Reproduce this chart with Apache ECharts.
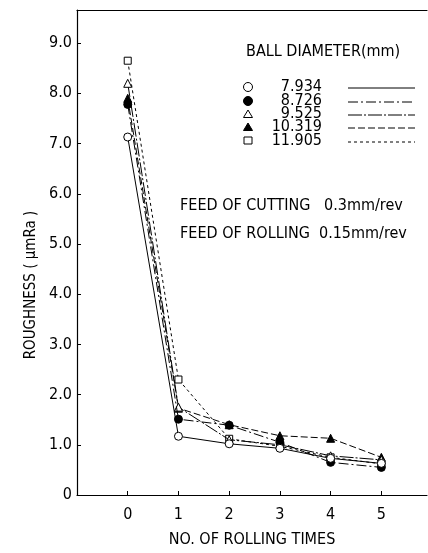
<!DOCTYPE html>
<html>
<head>
<meta charset="utf-8">
<script src="https://cdn.jsdelivr.net/npm/echarts@6/dist/echarts.min.js"></script>
<style>
  html, body { margin: 0; padding: 0; background: #fff; }
  #chart { width: 428px; height: 553px; }
</style>
</head>
<body>
<div id="chart"></div>
<script>
// rolling times on x
var rollingTimes = [0, 1, 2, 3, 4, 5];

// ball diameters (mm) and roughness values
var diameters = ['7.934', '8.726', '9.525', '10.319', '11.905'];
var rough7934 = [7.13, 1.17, 1.02, 0.93, 0.73, 0.63];
var rough8726 = [7.78, 1.51, 1.39, 1.05, 0.65, 0.55];
var rough9525 = [8.2, 1.75, 1.1, 1.0, 0.78, 0.7];
var rough10319 = [7.9, 1.73, 1.4, 1.18, 1.13, 0.75];
var rough11905 = [8.65, 2.3, 1.12, 0.97, 0.75, 0.62];

var yTicks = [0, 1, 2, 3, 4, 5, 6, 7, 8, 9];

var font = '"DejaVu Sans Condensed", "DejaVu Sans", sans-serif';

var seriesValues = [rough7934, rough8726, rough9525, rough10319, rough11905];
var symbols = ['circle', 'circle', 'triangle', 'triangle', 'rect'];
var filled = [false, true, false, true, false];
var dashes = ['solid', [10, 3, 2, 3], [14, 2, 2, 2], [7, 3], [3, 3]];

var series = diameters.map(function (d, i) {
  return {
    name: d,
    type: 'line',
    xAxisIndex: 0,
    yAxisIndex: 0,
    data: rollingTimes.map(function (t, j) { return [t, seriesValues[i][j]]; }),
    symbol: symbols[i],
    symbolSize: symbols[i] === 'rect' ? 7 : 8,
    showAllSymbol: true,
    z: 10 - i,
    itemStyle: {
      color: filled[i] ? '#000' : '#fff',
      borderColor: '#000',
      borderWidth: 1
    },
    lineStyle: { color: '#000', width: 1, type: dashes[i] },
    emphasis: { disabled: true },
    animation: false
  };
});

// legend drawn by hand: symbol, value, line sample
var graphics = [{
  type: 'text', left: 246, top: 44,
  style: { text: 'BALL DIAMETER(mm)', font: '16px ' + font, fill: '#000' }
}];
var rowY = [87, 101, 114, 127, 141];
diameters.forEach(function (d, i) {
  var y = rowY[i];
  var fill = filled[i] ? '#000' : '#fff';
  if (symbols[i] === 'circle') {
    graphics.push({ type: 'circle', shape: { cx: 248, cy: y, r: 4.5 }, style: { fill: fill, stroke: '#000', lineWidth: 1 } });
  } else if (symbols[i] === 'triangle') {
    graphics.push({ type: 'polygon', shape: { points: [[248, y - 4], [243.5, y + 3.5], [252.5, y + 3.5]] }, style: { fill: fill, stroke: '#000', lineWidth: 1 } });
  } else {
    graphics.push({ type: 'rect', shape: { x: 244, y: y - 4, width: 8, height: 7 }, style: { fill: fill, stroke: '#000', lineWidth: 1 } });
  }
  graphics.push({
    type: 'text', x: 322, y: y, z: 20,
    style: { text: d, font: '16px ' + font, fill: '#000', align: 'right', verticalAlign: 'middle' }
  });
  graphics.push({
    type: 'line', shape: { x1: 348, y1: y + 1, x2: 415, y2: y + 1 },
    style: { stroke: '#000', lineWidth: 1, lineDash: dashes[i] === 'solid' ? null : dashes[i] }
  });
});
graphics.push({
  type: 'text', left: 180, top: 198,
  style: { text: 'FEED OF CUTTING   0.3mm/rev', font: '16px ' + font, fill: '#000' }
});
graphics.push({
  type: 'text', left: 180, top: 226,
  style: { text: 'FEED OF ROLLING  0.15mm/rev', font: '16px ' + font, fill: '#000' }
});
graphics.push({
  type: 'text', x: 31, y: 285, rotation: Math.PI / 2,
  style: { text: 'ROUGHNESS ( \u00b5mRa )', font: '15px ' + font, fill: '#000', align: 'center', verticalAlign: 'middle' }
});

var labelStyle = { fontFamily: font, fontSize: 16, color: '#000' };

var chart = echarts.init(document.getElementById('chart'), null, { renderer: 'canvas' });
chart.setOption({
  animation: false,
  backgroundColor: '#fff',
  grid: { left: 77, right: 1, top: 10, bottom: 55, show: false },
  xAxis: [{
    type: 'value',
    position: 'bottom',
    min: -1, max: 5.9, interval: 1,
    name: 'NO. OF ROLLING TIMES',
    nameLocation: 'middle', nameGap: 37,
    nameTextStyle: labelStyle,
    axisLine: { onZero: false, lineStyle: { color: '#000', width: 1.2 } },
    axisTick: { inside: true, length: 4, lineStyle: { color: '#000' } },
    axisLabel: {
      fontFamily: font, fontSize: 16, color: '#000', margin: 12,
      showMaxLabel: false,
      formatter: function (v) { return rollingTimes.indexOf(v) >= 0 ? String(v) : ''; }
    },
    splitLine: { show: false }
  }, {
    // top frame line
    type: 'value', position: 'top',
    min: -1, max: 5.9,
    axisLine: { onZero: false, lineStyle: { color: '#000', width: 1.2 } },
    axisTick: { show: false },
    axisLabel: { show: false },
    splitLine: { show: false }
  }],
  yAxis: {
    type: 'value',
    min: 0, max: 9.66, interval: 1,
    axisLine: { onZero: false, lineStyle: { color: '#000', width: 1.2 } },
    axisTick: { inside: true, length: 4, lineStyle: { color: '#000' } },
    axisLabel: {
      fontFamily: font, fontSize: 16, color: '#000', margin: 5,
      showMaxLabel: false,
      formatter: function (v) {
        if (yTicks.indexOf(v) < 0) return '';
        return v === 0 ? '0' : v.toFixed(1);
      }
    },
    splitLine: { show: false }
  },
  graphic: graphics,
  series: series
});
</script>
</body>
</html>
